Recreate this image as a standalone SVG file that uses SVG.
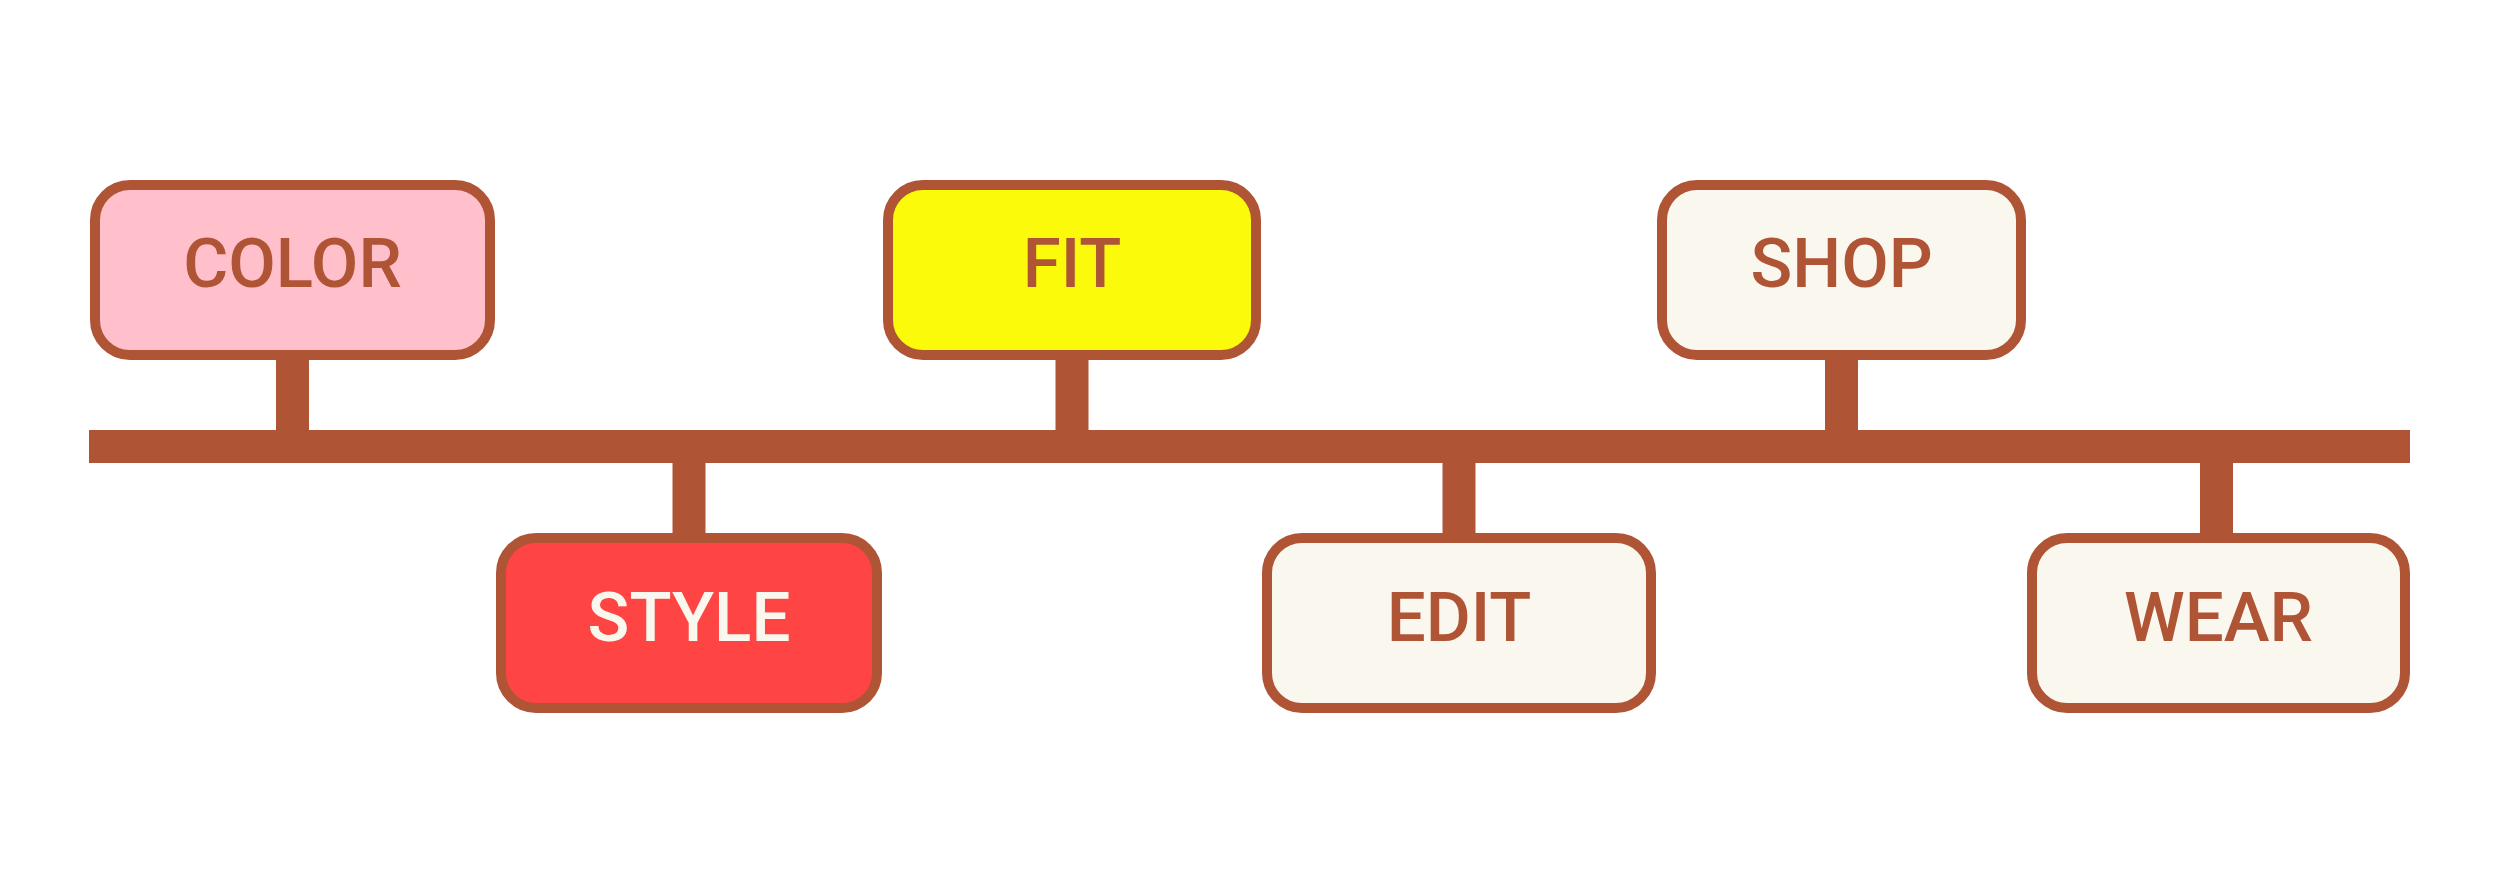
<svg xmlns="http://www.w3.org/2000/svg" width="2500" height="894" viewBox="0 0 2500 894">
<style>
.box{stroke:#B05436;stroke-width:10}
.lbl{font-family:Roboto,"Liberation Sans",sans-serif;font-weight:500;font-size:69px;text-anchor:middle;fill:#B05436}
.conn{fill:#B05436}
</style>
<rect width="2500" height="894" fill="#FFFFFF"/>
<g id="connectors">
<rect class="conn" x="89" y="430" width="2321" height="33"/>
<rect class="conn" x="276" y="355" width="33" height="80"/>
<rect class="conn" x="1055.5" y="355" width="33" height="80"/>
<rect class="conn" x="1825" y="355" width="33" height="80"/>
<rect class="conn" x="672.5" y="455" width="33" height="85"/>
<rect class="conn" x="1442.5" y="455" width="33" height="85"/>
<rect class="conn" x="2200" y="455" width="33" height="85"/>
</g>
<g id="node-color">
<rect class="box" x="95" y="185" width="395" height="170" rx="35" fill="#FFC0CB"/>
<text class="lbl" x="292.5" y="287">COLOR</text>
</g>
<g id="node-fit">
<rect class="box" x="888" y="185" width="368" height="170" rx="35" fill="#FAFA0A"/>
<text class="lbl" x="1072" y="287">FIT</text>
</g>
<g id="node-shop">
<rect class="box" x="1662" y="185" width="359" height="170" rx="35" fill="#FAF8EE"/>
<text class="lbl" x="1841.7" y="287">SHOP</text>
</g>
<g id="node-style">
<rect class="box" x="501" y="538" width="376" height="170" rx="35" fill="#FF4444"/>
<text class="lbl" x="689" y="641" style="fill:#FAF8EE">STYLE</text>
</g>
<g id="node-edit">
<rect class="box" x="1267" y="538" width="384" height="170" rx="35" fill="#FAF8EE"/>
<text class="lbl" x="1459" y="641">EDIT</text>
</g>
<g id="node-wear">
<rect class="box" x="2032" y="538" width="373" height="170" rx="35" fill="#FAF8EE"/>
<text class="lbl" x="2218.5" y="641">WEAR</text>
</g>
</svg>
